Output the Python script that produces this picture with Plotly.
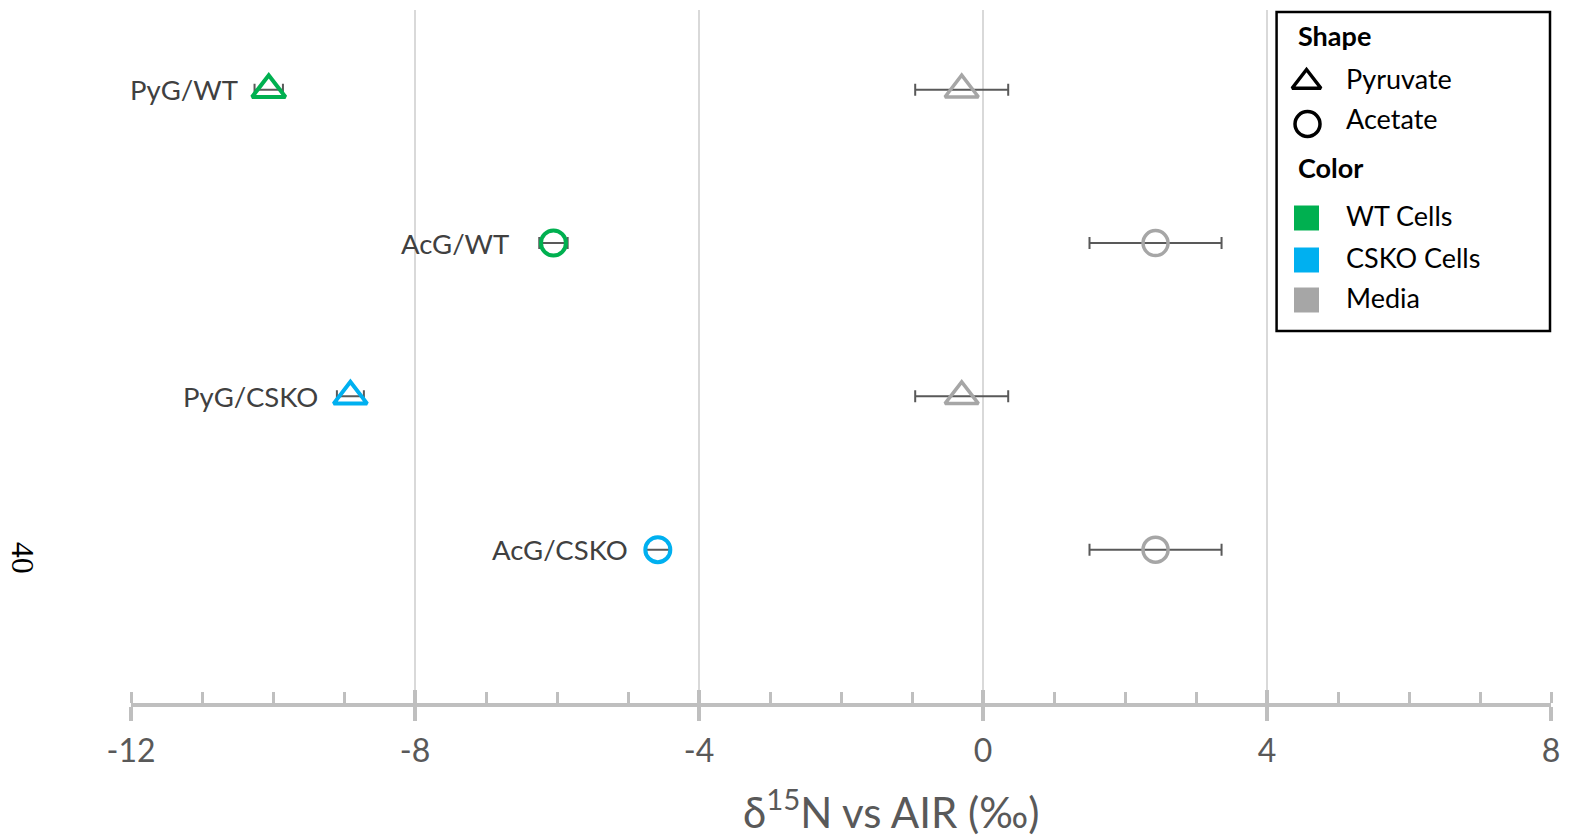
import plotly.graph_objects as go

# ---------------- data ----------------
groups = ["PyG/WT", "AcG/WT", "PyG/CSKO", "AcG/CSKO"]
substrate = ["Pyruvate", "Acetate", "Pyruvate", "Acetate"]
cell_type = ["WT", "WT", "CSKO", "CSKO"]
row_pos = [4, 3, 2, 1]
cell_vals = [-10.06, -6.05, -8.91, -4.58]
cell_err = [0.20, 0.20, 0.19, 0.17]
media_vals = [-0.30, 2.43, -0.30, 2.43]
media_err = [0.655, 0.93, 0.655, 0.93]

x_ticks = [-12, -8, -4, 0, 4, 8]

# ---------------- styles ----------------
GREEN = "#00B050"
BLUE = "#00B0F0"
GRAY = "#A6A6A6"
FONT = "Lato"
color_of = {"WT": GREEN, "CSKO": BLUE}
symbol_of = {"Pyruvate": "triangle-up-open", "Acetate": "circle-open"}
size_of = {"Pyruvate": 29, "Acetate": 25}
label_gap = [29, 42, 30, 28]

W, H = 1570, 837
L, R, T, B = 131, 16, 10, 134
PW, PH = W - L - R, H - T - B


def px(xp):
    return (xp - L) / PW


def py(yp):
    return (H - B - yp) / PH


fig = go.Figure()

# media points
for i in range(len(groups)):
    fig.add_trace(go.Scatter(
        x=[media_vals[i]], y=[row_pos[i]], mode="markers",
        marker=dict(symbol=symbol_of[substrate[i]], size=size_of[substrate[i]],
                    color=GRAY, opacity=1, line=dict(width=3.5, color=GRAY)),
        error_x=dict(type="data", array=[media_err[i]], color="#595959",
                     thickness=2, width=6),
        showlegend=False, hoverinfo="skip"))

# cell points
for i in range(len(groups)):
    c = color_of[cell_type[i]]
    fig.add_trace(go.Scatter(
        x=[cell_vals[i]], y=[row_pos[i]], mode="markers",
        marker=dict(symbol=symbol_of[substrate[i]], size=size_of[substrate[i]],
                    color=c, opacity=1, line=dict(width=4, color=c)),
        error_x=dict(type="data", array=[cell_err[i]], color="#595959",
                     thickness=2, width=6),
        showlegend=False, hoverinfo="skip"))
    fig.add_annotation(x=cell_vals[i], y=row_pos[i], xref="x", yref="y",
                       text=groups[i], showarrow=False, xanchor="right",
                       yanchor="middle", xshift=-label_gap[i],
                       font=dict(family=FONT, size=27.5, color="#404040"))

# dummy trace for crossing major ticks axis
fig.add_trace(go.Scatter(x=[None], y=[None], xaxis="x2", yaxis="y",
                         showlegend=False, hoverinfo="skip"))

# ---------- manual legend ----------
fig.add_shape(type="rect", xref="paper", yref="paper",
              x0=px(1279), x1=px(1553), y0=py(12), y1=py(331),
              line=dict(color="black", width=2.5), fillcolor="white",
              layer="below")
leg_sym_x = [1309, 1310, 1309, 1309, 1309]
leg_sym_y = [82, 124, 218, 260, 300]
leg_symbols = ["triangle-up-open", "circle-open", "square", "square", "square"]
leg_colors = ["black", "black", GREEN, BLUE, GRAY]
leg_sizes = [25, 25, 25, 25, 25]
leg_lw = [3.5, 3.5, 0, 0, 0]
fig.add_trace(go.Scatter(
    x=leg_sym_x, y=leg_sym_y, xaxis="x3", yaxis="y3", mode="markers",
    marker=dict(symbol=leg_symbols, size=leg_sizes, color=leg_colors,
                opacity=1, line=dict(color=leg_colors, width=leg_lw)),
    showlegend=False, hoverinfo="skip"))
leg_titles = [("Shape", 36), ("Color", 168)]
for t, yy in leg_titles:
    fig.add_annotation(x=px(1298), y=py(yy), xref="paper", yref="paper",
                       text="<b>%s</b>" % t, showarrow=False, xanchor="left",
                       yanchor="middle",
                       font=dict(family=FONT, size=27, color="black"))
leg_items = [("Pyruvate", 79), ("Acetate", 118), ("WT Cells", 216),
             ("CSKO Cells", 257), ("Media", 297)]
for t, yy in leg_items:
    fig.add_annotation(x=px(1347), y=py(yy), xref="paper", yref="paper",
                       text=t, showarrow=False, xanchor="left",
                       yanchor="middle",
                       font=dict(family=FONT, size=27, color="black"))

# stray "40" text at left
fig.add_annotation(x=px(23), y=py(558), xref="paper", yref="paper",
                   text="40", showarrow=False, textangle=90,
                   xanchor="center", yanchor="middle",
                   font=dict(family="Liberation Serif", size=32, color="black"))

# axis title
fig.add_annotation(x=0.5 * (px(743) + px(1042)), y=py(809), xref="paper",
                   yref="paper", text="δ<sup>15</sup>N vs AIR (‰)",
                   showarrow=False, xanchor="center", yanchor="middle",
                   font=dict(family=FONT, size=42, color="#595959"))

fig.update_layout(
    width=W, height=H,
    margin=dict(l=L, r=R, t=T, b=B),
    paper_bgcolor="white", plot_bgcolor="white",
    showlegend=False,
    xaxis=dict(range=[-12, 8], tickvals=x_ticks, ticktext=[str(v) for v in x_ticks],
               showgrid=True, gridcolor="#D9D9D9", gridwidth=2,
               zeroline=False, showline=True, linecolor="#BFBFBF", linewidth=4,
               ticks="outside", ticklen=14, tickwidth=4, tickcolor="#BFBFBF",
               minor=dict(dtick=1, tick0=-12, ticks="inside", ticklen=11,
                          tickwidth=3, tickcolor="#BFBFBF", showgrid=False),
               tickfont=dict(family=FONT, size=32, color="#595959"),
               ticklabelstandoff=3),
    xaxis2=dict(range=[-12, 8], overlaying="x", anchor="y", tickvals=x_ticks,
                showticklabels=False, showgrid=False, zeroline=False,
                showline=False, ticks="inside", ticklen=13, tickwidth=4,
                tickcolor="#BFBFBF"),
    yaxis=dict(range=[0, 4.52], visible=False, showgrid=False, zeroline=False),
    xaxis3=dict(domain=[0, 1], range=[L, W - R], visible=False, anchor="y3",
                overlaying="x"),
    yaxis3=dict(domain=[0, 1], range=[H - B, T], visible=False, anchor="x3",
                overlaying="y"),
)

fig.write_html("out.html",
               config={"displayModeBar": False},
               post_script="document.body.style.margin='0';"
                           "document.body.style.padding='0';"
                           "document.body.style.overflow='hidden';")
